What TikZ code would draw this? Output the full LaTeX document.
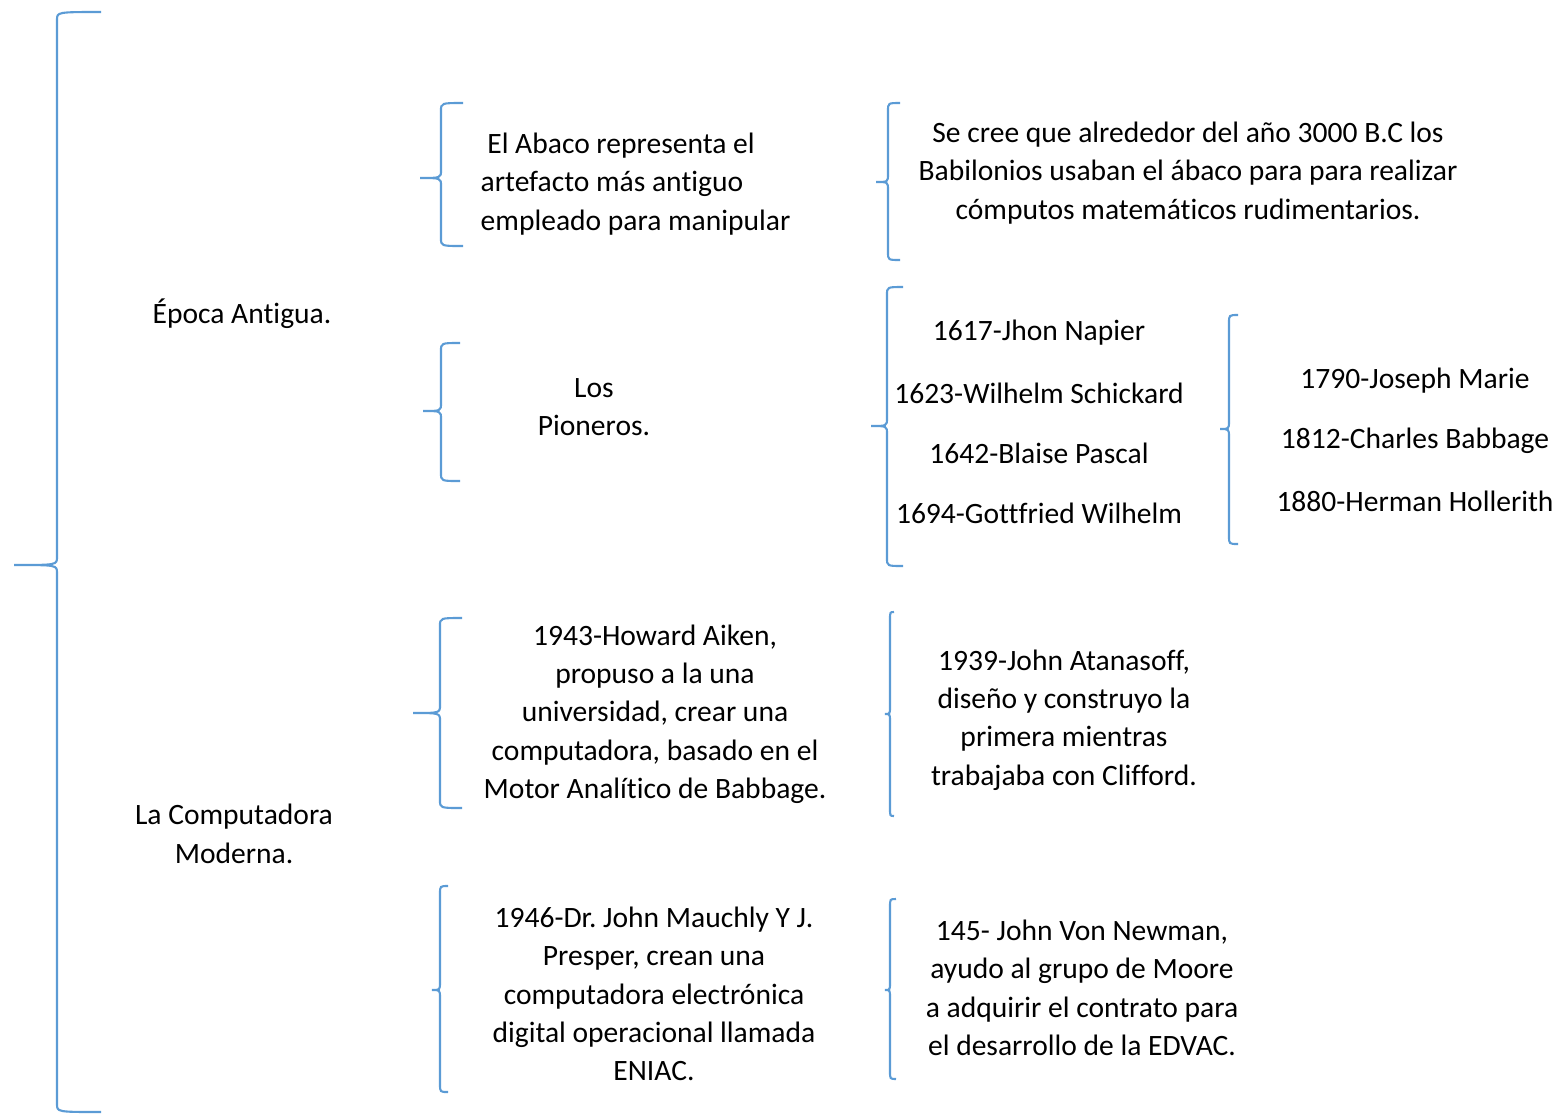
\documentclass[tikz,border=0pt]{standalone}
\usepackage{fontspec}
\setmainfont{Carlito}[Ligatures=NoCommon]
\usetikzlibrary{positioning}
\definecolor{llaveazul}{HTML}{5B9BD5}
\frenchspacing
% #1 x of the stem, #2 top, #3 bottom, #4 tip y, #5 end x, #6 tip x
\newcommand{\llave}[6]{%
  \draw[llave] (#5,#2) .. controls (#1,#2) .. (#1,#2+8) -- (#1,#4-8)
    .. controls (#1,#4) .. (#6,#4) .. controls (#1,#4) .. (#1,#4+8)
    -- (#1,#3-8) .. controls (#1,#3) .. (#5,#3);}

\begin{document}
\begin{tikzpicture}[x=0.01cm,y=-0.01cm,
  llave/.style={draw=llaveazul,line width=0.6pt},
  texto/.style={inner sep=0pt,align=center,font=\fontsize{8.4}{10.9}\selectfont}]
  \useasboundingbox (0,0) rectangle (1554,1114);

  % braces
  \llave{57}{12}{1112}{565}{101}{14}
  \llave{441}{103}{246}{178}{463}{420}
  \llave{888}{103}{260}{182}{900}{876}
  \llave{441}{343}{481}{411}{460}{423}
  \llave{887}{287}{566}{426}{903}{871}
  \llave{1229}{315}{544}{429}{1238}{1220}
  \llave{440}{618}{808}{713}{462}{413}
  \llave{890}{612}{816}{714}{894}{885}
  \llave{440}{886}{1092}{990}{448}{432}
  \llave{890}{899}{1079}{990}{896}{885}

  \node[texto] (epoca) at (242,314) {Época Antigua.};
  \node[texto] (moderna) at (234,834) {La Computadora\\Moderna.};

  \node[texto,align=left,anchor=west] (abaco) at (480,184)
    {\ El Abaco representa el\\artefacto más antiguo\\empleado para manipular};
  \node[texto] (babilonios) at (1188,173)
    {Se cree que alrededor del año 3000 B.C los\\Babilonios usaban el ábaco para para realizar\\cómputos matemáticos rudimentarios.};

  \node[texto] (pioneros) at (594,407) {Los\\Pioneros.};
  \node[texto] (napier) at (1039,333) {1617-Jhon Napier};
  \node[texto] (schickard) at (1039,393) {1623-Wilhelm Schickard};
  \node[texto] (pascal) at (1039,453) {1642-Blaise Pascal};
  \node[texto] (leibniz) at (1039,513) {1694-Gottfried Wilhelm};

  \node[texto] (jacquard) at (1415,381) {1790-Joseph Marie};
  \node[texto] (babbage) at (1415,441) {1812-Charles Babbage};
  \node[texto] (hollerith) at (1415,501) {1880-Herman Hollerith};

  \node[texto] (aiken) at (655,714)
    {1943-Howard Aiken,\\propuso a la una\\universidad, crear una\\computadora, basado en el\\Motor Analítico de Babbage.};
  \node[texto] (atanasoff) at (1064,720)
    {1939-John Atanasoff,\\diseño y construyo la\\primera mientras\\trabajaba con Clifford.};

  \node[texto] (mauchly) at (654,994)
    {1946-Dr. John Mauchly Y J.\\Presper, crean una\\computadora electrónica\\digital operacional llamada\\ENIAC.};
  \node[texto] (newman) at (1082,988)
    {145- John Von Newman,\\ayudo al grupo de Moore\\a adquirir el contrato para\\el desarrollo de la EDVAC.};
\end{tikzpicture}
\end{document}
